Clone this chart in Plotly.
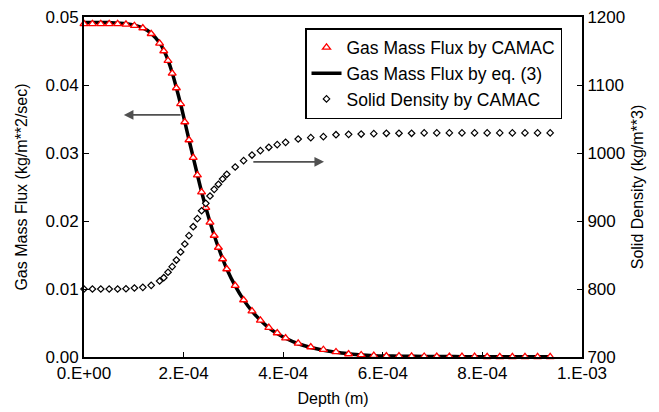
import plotly.graph_objects as go

# ---- data ----
depth_um = [0, 16.9, 33.7, 50.6, 67.5, 84.3, 101.2, 118.1, 134.9, 151.8,
            160.2, 168.7, 177.1, 185.5, 194.0, 202.4, 210.8, 219.3, 227.7, 236.1,
            244.6, 253.0, 261.4, 269.9, 278.3, 286.7,
            303.6, 320.5, 337.3, 354.2, 371.1, 388.0, 404.8,
            430.1, 455.4, 480.7, 506.0, 531.3, 556.6, 581.9, 607.2, 632.5, 657.8,
            683.1, 708.4, 733.7, 759.0, 784.3, 809.6, 834.9, 860.2, 885.5, 910.8, 936.1]

flux_camac = [0.0490, 0.0490, 0.0490, 0.0490, 0.0490, 0.04893, 0.04872, 0.04838, 0.04754, 0.04613,
              0.0450, 0.04357, 0.04172, 0.03956, 0.03721, 0.03456, 0.03191, 0.02931, 0.02676, 0.02426,
              0.02196, 0.01981, 0.01787, 0.0161, 0.01441, 0.01294,
              0.01049, 0.00838, 0.00676, 0.0054, 0.00431, 0.00353, 0.00279,
              0.00201, 0.00147, 0.00107, 0.00074, 0.00044, 0.0003, 0.0002, 0.00015, 0.00012, 0.0001,
              0.00008, 0.00007, 0.00006, 0.00005, 0.00005, 0.00004, 0.00004, 0.00003, 0.00003, 0.00003, 0.00003]

flux_eq3 = [0.0492, 0.0492, 0.0492, 0.0492, 0.0491, 0.04900, 0.04880, 0.04840, 0.04760, 0.04620,
            0.0451, 0.04365, 0.04180, 0.03960, 0.03720, 0.03460, 0.03195, 0.02935, 0.02680, 0.02430,
            0.02200, 0.01985, 0.01790, 0.0161, 0.01445, 0.01295,
            0.01045, 0.00840, 0.00675, 0.0054, 0.00430, 0.00345, 0.00275,
            0.00195, 0.00140, 0.00100, 0.00070, 0.00048, 0.0003, 0.0002, 0.00015, 0.00012, 0.0001,
            0.00008, 0.00007, 0.00006, 0.00005, 0.00005, 0.00004, 0.00004, 0.00003, 0.00003, 0.00003, 0.00003]

density = [800, 800, 800, 800, 800, 800.4, 801.5, 802.4, 805.4, 811.8,
           816.6, 824.6, 832.8, 842.6, 854.4, 866.2, 878.4, 891.6, 903.4, 915.1,
           926, 936.8, 946.6, 954, 961.8, 968.7,
           979.4, 988.7, 997, 1003.4, 1008.4, 1012.2, 1015.7,
           1020.6, 1022.5, 1024, 1026.9, 1027.5, 1027.9, 1028.4, 1029, 1029, 1029,
           1029.5, 1029.5, 1029.5, 1029.5, 1029.5, 1029.5, 1029.5, 1029.5, 1029.5, 1029.5, 1029.5]

x_tickvals = [0, 2e-4, 4e-4, 6e-4, 8e-4, 1e-3]
x_ticktext = ["0.E+00", "2.E-04", "4.E-04", "6.E-04", "8.E-04", "1.E-03"]

depth = [d * 1e-6 for d in depth_um]

FONT = "Liberation Sans, Arial, Helvetica, sans-serif"

fig = go.Figure()
fig.add_trace(go.Scatter(
    x=depth, y=flux_eq3, mode="lines", name="Gas Mass Flux by eq. (3)",
    line=dict(color="black", width=3.5, shape="spline"), legendrank=2, cliponaxis=False))
fig.add_trace(go.Scatter(
    x=depth, y=flux_camac, mode="markers", name="Gas Mass Flux by CAMAC",
    marker=dict(symbol="triangle-up", size=7, color="white", line=dict(color="red", width=1.3)),
    legendrank=1, cliponaxis=False))
fig.add_trace(go.Scatter(
    x=depth, y=density, yaxis="y2", mode="markers", name="Solid Density by CAMAC",
    marker=dict(symbol="diamond", size=5, color="white", line=dict(color="black", width=1.2)),
    legendrank=3, cliponaxis=False))

axis_common = dict(showline=True, linecolor="black", linewidth=2, ticks="inside",
                   ticklen=5, tickcolor="black", tickwidth=1, showgrid=False, zeroline=False,
                   automargin=False,
                   tickfont=dict(size=17, color="black", family=FONT))

fig.update_layout(
    width=659, height=412,
    margin=dict(l=84, r=77, t=17, b=55),
    paper_bgcolor="white", plot_bgcolor="white",
    font=dict(family=FONT, size=16, color="black"),
    xaxis=dict(range=[0, 1e-3], tickvals=x_tickvals, ticktext=x_ticktext, mirror=True,
               title=dict(text="Depth (m)", font=dict(size=16), standoff=10), **axis_common),
    yaxis=dict(range=[0, 0.05], dtick=0.01, tickformat=".2f",
               title=dict(text="Gas Mass Flux (kg/m**2/sec)", font=dict(size=16), standoff=14),
               **axis_common),
    yaxis2=dict(range=[700, 1200], dtick=100, overlaying="y", side="right",
                title=dict(text="Solid Density (kg/m**3)", font=dict(size=16), standoff=8),
                **axis_common),
    legend=dict(x=0.4438, y=0.9676, xanchor="left", yanchor="top",
                bordercolor="black", borderwidth=1.5, bgcolor="white",
                font=dict(size=17.5, family=FONT)),
    showlegend=True,
)

arrows = [
    dict(head=(8.0e-5, 0.0356), tail=(1.97e-4, 0.0356)),
    dict(head=(4.82e-4, 0.0287), tail=(3.37e-4, 0.0287)),
]
for a in arrows:
    fig.add_annotation(x=a["head"][0], y=a["head"][1], ax=a["tail"][0], ay=a["tail"][1],
                       xref="x", yref="y", axref="x", ayref="y", text="", showarrow=True,
                       arrowhead=2, arrowsize=1.2, arrowwidth=1.6, arrowcolor="#505050")

fig.write_html("out.html", config={"displayModeBar": False},
               post_script="document.body.style.margin='0';document.body.style.overflow='hidden';")
